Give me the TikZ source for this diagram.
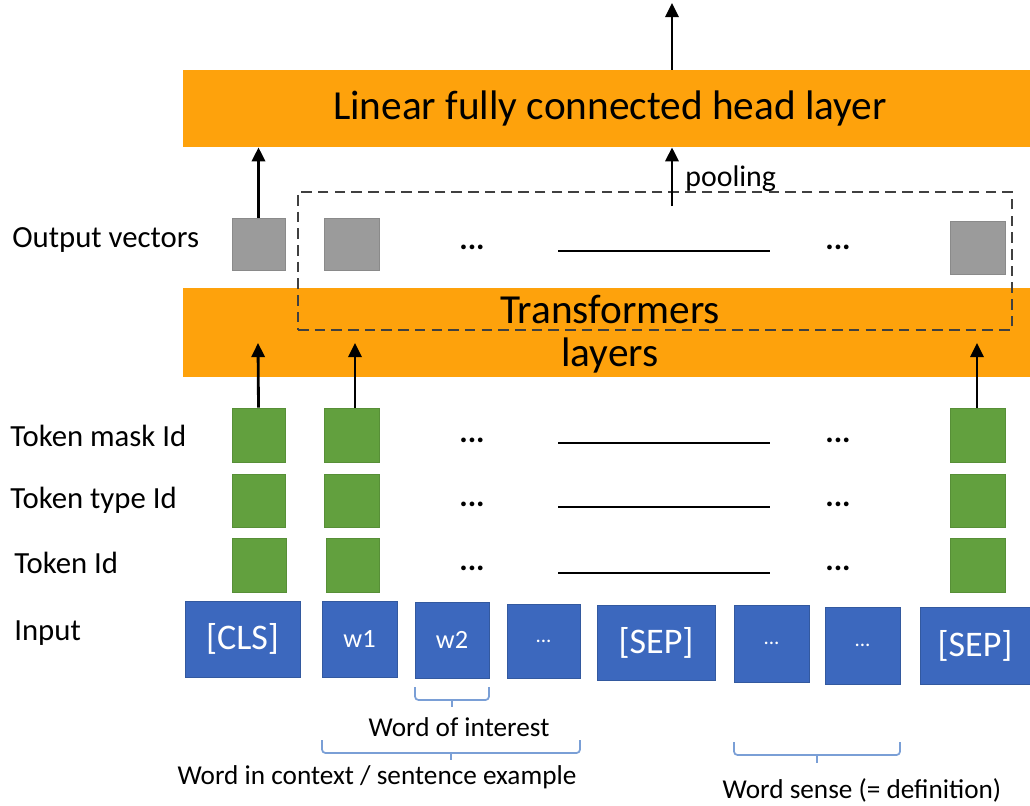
\documentclass[tikz,border=0pt]{standalone}
\usepackage{fontspec}
\setmainfont{Carlito}
\usetikzlibrary{fit,arrows.meta}

\definecolor{layerorange}{HTML}{FEA20C}
\definecolor{tokgreen}{HTML}{62A03E}
\definecolor{tokgreenedge}{HTML}{578F37}
\definecolor{inblue}{HTML}{3C68BE}
\definecolor{inblueedge}{HTML}{33599F}
\definecolor{vecgray}{HTML}{9B9B9B}
\definecolor{vecgrayedge}{HTML}{8A8A8A}
\definecolor{bracecol}{HTML}{7A9FD6}

\tikzset{
  layerbar/.style={fill=layerorange, draw=none, inner sep=0pt},
  layertext/.style={inner sep=0pt, font=\fontsize{23.5}{27}\selectfont},
  greensq/.style={fill=tokgreen, draw=tokgreenedge, line width=0.4pt, inner sep=0pt},
  graysq/.style={fill=vecgray, draw=vecgrayedge, line width=0.4pt, inner sep=0pt},
  inbox/.style={fill=inblue, draw=inblueedge, line width=0.4pt, inner sep=0pt},
  bigtok/.style={text=white, inner sep=0pt, font=\fontsize{20.5}{24}\selectfont},
  smalltok/.style={text=white, inner sep=0pt, font=\fontsize{15}{18}\selectfont},
  dottok/.style={text=white, inner sep=0pt, font=\fontsize{12}{14}\selectfont},
  poolbox/.style={draw=black!75, line width=0.8pt, dash pattern=on 6pt off 3.5pt,
    inner sep=0pt},
  uparrow/.style={draw=black, line width=1.6pt,
    -{Triangle[length=8pt,width=7.5pt]}},
  rowlabel/.style={anchor=west, inner sep=0pt, font=\fontsize{17.5}{20}\selectfont},
  dots/.style={inner sep=0pt, font=\fontsize{18}{20}\selectfont\bfseries},
  seqline/.style={draw=black, line width=0.8pt},
  bracepath/.style={draw=bracecol, line width=1pt, rounded corners=2pt},
  bracetext/.style={inner sep=0pt, font=\fontsize{15.5}{18}\selectfont}
}

\begin{document}
\begin{tikzpicture}[x=0.02cm, y=-0.02cm]
\useasboundingbox (0,0) rectangle (1030,805);

% ---- layers ----
\node[layerbar, fit={(183,70) (1030,147)}] (head) {};
\node[layertext] (headtxt) at (610,108) {Linear fully connected head layer};

\node[layerbar, fit={(183,288) (1030,377)}] (trans) {};
\node[layertext] (transtop) at (610,309) {Transformers};
\node[layertext] (transbot) at (610,355) {layers};

% ---- output vectors ----
\node[graysq, fit={(232,218) (285,270)}] (o1) {};
\node[graysq, fit={(324,218) (379,270)}] (o2) {};
\node[graysq, fit={(950,221) (1005,274)}] (o3) {};
\node[dots] (od1) at (472,247) {...};
\node[dots] (od2) at (838,247) {...};
\draw[seqline] (558,251) -- (770,251);

% pooled region
\node[poolbox, fit={(298,192) (1012,330)}] (pool) {};

% ---- token rows ----
\node[greensq, fit={(232,408) (285,462)}] (m1) {};
\node[greensq, fit={(324,408) (379,462)}] (m2) {};
\node[greensq, fit={(950,408) (1005,462)}] (m3) {};
\node[greensq, fit={(232,474) (285,527)}] (t1) {};
\node[greensq, fit={(324,474) (379,527)}] (t2) {};
\node[greensq, fit={(950,474) (1005,527)}] (t3) {};
\node[greensq, fit={(232,538) (286,592)}] (i1) {};
\node[greensq, fit={(326,538) (379,592)}] (i2) {};
\node[greensq, fit={(950,538) (1005,592)}] (i3) {};

\foreach \yy/\nm in {440/a,504/b,568/c}{
  \node[dots] (dl\nm) at (472,\yy) {...};
  \node[dots] (dr\nm) at (838,\yy) {...};
}
\draw[seqline] (558,443) -- (770,443);
\draw[seqline] (558,507) -- (770,507);
\draw[seqline] (558,573) -- (770,573);

% ---- row labels ----
\node[rowlabel] (lout)  at (12,240) {Output vectors};
\node[rowlabel] (lmask) at (10,436) {Token mask Id};
\node[rowlabel] (ltype) at (10,500) {Token type Id};
\node[rowlabel] (lid)   at (14,563) {Token Id};
\node[rowlabel] (lin)   at (14,633) {Input};

% ---- input tokens ----
\node[inbox, fit={(185,601) (300,677)}] (cls) {};
\node[inbox, fit={(322,601) (397,677)}] (w1) {};
\node[inbox, fit={(415,602) (489,678)}] (w2) {};
\node[inbox, fit={(507,604) (580,678)}] (x1) {};
\node[inbox, fit={(597,605) (715,680)}] (sep1) {};
\node[inbox, fit={(734,605) (809,682)}] (x2) {};
\node[inbox, fit={(825,607) (900,684)}] (x3) {};
\node[inbox, fit={(920,607) (1030,684)}] (sep2) {};
\node[bigtok]   (clst)  at (cls.center)  {[CLS]};
\node[smalltok] (w1t)   at (w1.center)   {w1};
\node[smalltok] (w2t)   at (w2.center)   {w2};
\node[dottok]   (x1t)   at (x1.center)   {...};
\node[bigtok]   (sep1t) at (sep1.center) {[SEP]};
\node[dottok]   (x2t)   at (x2.center)   {...};
\node[dottok]   (x3t)   at (x3.center)   {...};
\node[bigtok]   (sep2t) at (sep2.center) {[SEP]};

% ---- arrows ----
\coordinate (topout) at (672,3);
\draw[uparrow] (head.north -| topout) -- (topout);

\draw[uparrow] (o1.north) -- (o1.north |- head.south);

\coordinate (poolstart) at (672,206);
\draw[uparrow] (poolstart) -- (poolstart |- head.south);
\node[anchor=west, inner sep=0pt, font=\fontsize{17}{20}\selectfont] (pooltxt) at (685,179) {pooling};

\coordinate (in1) at (258,343);
\coordinate (in2) at (355,343);
\coordinate (in3) at (977,343);
\draw[uparrow] (m1.north) -- (in1);
\draw[uparrow] (m2.north -| in2) -- (in2);
\draw[uparrow] (m3.north -| in3) -- (in3);

% ---- braces ----
\draw[bracepath] (415,687) -- (415,700) -- (489,700) -- (489,687);
\draw[bracecol, line width=1pt] (452,700) -- (452,707);
\node[bracetext] (woi) at (459,727) {Word of interest};

\draw[bracepath] (322,740) -- (322,753) -- (580,753) -- (580,740);
\draw[bracecol, line width=1pt] (451,753) -- (451,760);
\node[bracetext] (wic) at (377,777) {Word in context / sentence example};

\draw[bracepath] (734,742) -- (734,755) -- (900,755) -- (900,742);
\draw[bracecol, line width=1pt] (817,755) -- (817,763);
\node[bracetext] (wsd) at (862,790) {Word sense (= definition)};
\end{tikzpicture}
\end{document}
